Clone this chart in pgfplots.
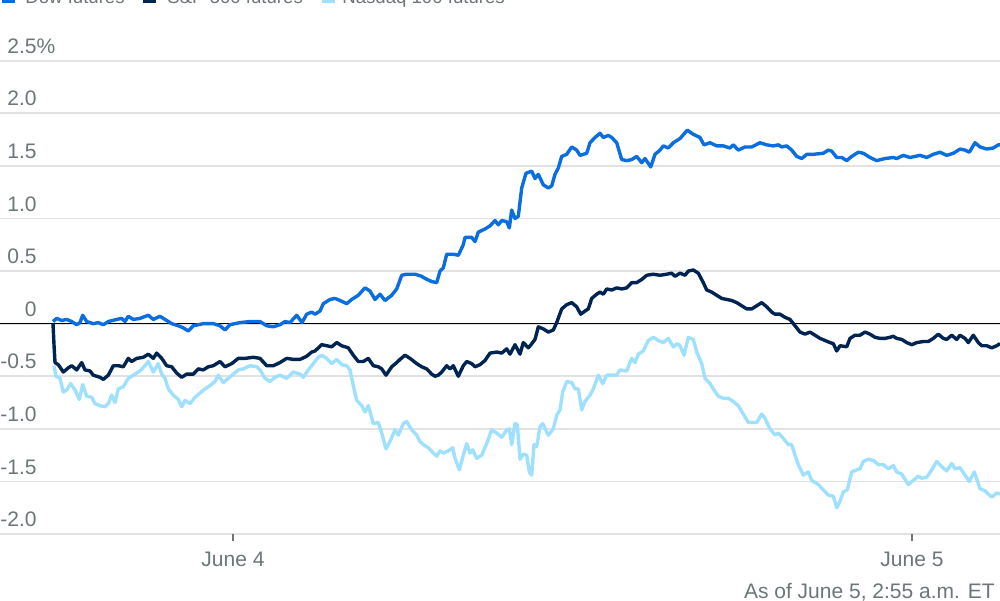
\documentclass[border=0pt]{standalone}
\usepackage{fontspec}
\setmainfont{Liberation Sans}
\usepackage{pgfplots}
\pgfplotsset{compat=1.18}
\definecolor{dow}{RGB}{10,110,225}
\definecolor{spx}{RGB}{0,36,82}
\definecolor{ndx}{RGB}{160,224,255}
\definecolor{txt}{RGB}{108,117,120}
\definecolor{grd}{RGB}{226,226,226}
\newcommand{\lbl}{\fontsize{10.5}{12}\selectfont}
\newcommand{\lgd}{\fontsize{9.3}{11}\selectfont}
\begin{document}
\begin{tikzpicture}
\useasboundingbox (0,-33pt) rectangle (500pt,267pt);
\clip (0,-33pt) rectangle (500pt,267pt);
\begin{axis}[
  at={(0,0)}, anchor=south west,
  scale only axis, width=500pt, height=236.65pt,
  xmin=0, xmax=1000, ymin=-2, ymax=2.5,
  axis line style={draw=none},
  ytick={-2,-1.5,-1,-0.5,0,0.5,1,1.5,2,2.5},
  yticklabels={-2.0,-1.5,-1.0,-0.5,0,0.5,1.0,1.5,2.0,2.5\rlap{\%}},
  ytick style={draw=none},
  yticklabel style={anchor=base east, inner sep=0pt, xshift=22pt, yshift=3.7pt, font=\lbl, text=txt},
  xtick={233,912},
  xticklabels={June 4,June 5},
  xtick pos=bottom, ytick pos=left,
  tick align=outside,
  xtick style={draw=txt, line width=0.6pt},
  major tick length=3.5pt,
  xticklabel style={anchor=base, inner sep=0pt, yshift=-12.5pt, font=\lbl, text=txt},
  ymajorgrids, grid style={grd, line width=0.9pt},
  every axis plot/.append style={line join=round, no markers},
]
\addplot[black, line width=0.7pt] coordinates {(0,0)(1000,0)};
% Nasdaq 100 futures
\addplot[ndx, line width=1.7pt] coordinates {
(54,-0.40)(56,-0.50)(60,-0.52)(63.3,-0.65)(66.7,-0.63)(70.7,-0.57)(75,-0.63)(79.3,-0.72)(82.7,-0.58)(86.7,-0.69)(91.7,-0.70)(95,-0.76)(100,-0.78)(105,-0.79)(108.3,-0.76)(111.7,-0.68)(115,-0.75)(118.3,-0.62)(123.3,-0.60)(128.3,-0.52)(133.3,-0.49)(140,-0.45)(145,-0.40)(148.3,-0.36)(153.3,-0.46)(158.3,-0.38)(161.7,-0.48)(165,-0.52)(168.3,-0.62)(173.3,-0.68)(178.3,-0.72)(181.7,-0.79)(185,-0.73)(190,-0.76)(195,-0.70)(200,-0.66)(205,-0.62)(210,-0.59)(215,-0.55)(218.3,-0.49)(223.3,-0.56)(228.3,-0.52)(233.3,-0.48)(238.3,-0.44)(243.3,-0.43)(250,-0.40)(256.7,-0.41)(260,-0.44)(265,-0.52)(270,-0.55)(275,-0.51)(280,-0.49)(286.7,-0.52)(293.3,-0.46)(300,-0.48)(303.3,-0.51)(308.3,-0.44)(313.3,-0.38)(318.3,-0.32)(321.7,-0.30)(326.7,-0.33)(331.7,-0.38)(336.7,-0.34)(341.7,-0.39)(346.7,-0.40)(350,-0.44)(353.3,-0.59)(356.7,-0.73)(361.7,-0.78)(365,-0.84)(368.3,-0.78)(373.3,-0.95)(378.3,-0.94)(381.7,-1.04)(386,-1.19)(390,-1.12)(395,-1.01)(398.3,-1.06)(403.3,-0.95)(406.7,-0.93)(411.7,-1.01)(416.7,-1.06)(420,-1.12)(423.3,-1.15)(428.3,-1.18)(433.3,-1.23)(436.7,-1.26)(440,-1.21)(443.3,-1.23)(448.3,-1.21)(452.7,-1.18)(455,-1.28)(459.3,-1.39)(463.3,-1.25)(466.7,-1.14)(470,-1.23)(472.7,-1.20)(476.7,-1.28)(481.7,-1.25)(486.7,-1.14)(491.7,-1.01)(496.7,-1.04)(501.7,-1.08)(506.7,-1.01)(509.3,-1.00)(511.7,-1.15)(515,-0.95)(517.3,-0.96)(520,-1.29)(523.3,-1.24)(526.7,-1.25)(529.3,-1.41)(531.7,-1.44)(534,-1.15)(536.7,-1.17)(540,-0.98)(542.7,-0.95)(548.3,-1.06)(553.3,-1.00)(556.7,-0.87)(560,-0.82)(562.7,-0.65)(566.7,-0.55)(571.7,-0.56)(575,-0.62)(578.3,-0.62)(581.7,-0.82)(585,-0.74)(590,-0.68)(593.3,-0.62)(598.3,-0.49)(602.7,-0.57)(606.7,-0.49)(611.7,-0.49)(616.7,-0.49)(620,-0.44)(626.7,-0.45)(631.7,-0.33)(635,-0.37)(638.3,-0.29)(643.3,-0.26)(648.3,-0.16)(653.3,-0.13)(658.3,-0.16)(663.3,-0.18)(668.3,-0.14)(673.3,-0.22)(677.3,-0.19)(680,-0.21)(684,-0.30)(688.3,-0.13)(693.3,-0.15)(696.7,-0.27)(701.7,-0.38)(705,-0.52)(710,-0.57)(713.3,-0.62)(718.3,-0.69)(723.3,-0.71)(728.3,-0.71)(733.3,-0.74)(738.3,-0.78)(743.3,-0.86)(748.3,-0.94)(753.3,-0.94)(756.7,-0.94)(761.7,-0.86)(765,-0.90)(770,-1.00)(775,-1.06)(778.3,-1.04)(783.3,-1.09)(788.3,-1.15)(791.7,-1.15)(795,-1.25)(798.3,-1.34)(803.3,-1.44)(808.3,-1.41)(811.7,-1.49)(818.3,-1.53)(823.3,-1.58)(828.3,-1.63)(833.3,-1.64)(836.7,-1.75)(840,-1.69)(843.3,-1.60)(847.3,-1.58)(851.7,-1.41)(856.7,-1.39)(860,-1.38)(863.3,-1.31)(868.3,-1.29)(873.3,-1.30)(878.3,-1.34)(883.3,-1.34)(888.3,-1.38)(893.3,-1.35)(896.7,-1.41)(901.7,-1.43)(908.3,-1.53)(913.3,-1.49)(918.3,-1.45)(921.7,-1.47)(926.7,-1.46)(931.7,-1.39)(936.7,-1.31)(941.7,-1.36)(946.7,-1.40)(951.7,-1.33)(955,-1.38)(960,-1.37)(965,-1.44)(969.3,-1.50)(974.3,-1.41)(980,-1.57)(985,-1.59)(991.7,-1.65)(996.7,-1.61)(1000,-1.62)
};
% S&P 500 futures
\addplot[spx, line width=1.7pt] coordinates {
(53,0.0)(54,-0.2)(55,-0.37)(58.3,-0.39)(63.3,-0.46)(68.3,-0.42)(71.7,-0.40)(76.7,-0.44)(81.7,-0.37)(85,-0.44)(90,-0.45)(93.3,-0.49)(100,-0.51)(103.3,-0.53)(108.3,-0.49)(113.3,-0.40)(118.3,-0.40)(123.3,-0.41)(128.3,-0.33)(131.7,-0.36)(136.7,-0.33)(143.3,-0.32)(148.3,-0.29)(153.3,-0.33)(156.7,-0.28)(161.7,-0.33)(166.7,-0.40)(171.7,-0.41)(176.7,-0.47)(181.7,-0.51)(186.7,-0.48)(193.3,-0.48)(198.3,-0.43)(203.3,-0.44)(208.3,-0.41)(213.3,-0.40)(220,-0.36)(225,-0.41)(231.7,-0.38)(238.3,-0.33)(245,-0.33)(253.3,-0.32)(260,-0.33)(266.7,-0.40)(273.3,-0.40)(280,-0.37)(286.7,-0.33)(293.3,-0.34)(300,-0.34)(306.7,-0.31)(311.7,-0.27)(315,-0.26)(321.7,-0.20)(326.7,-0.21)(331.7,-0.22)(336.7,-0.18)(341.7,-0.21)(348.3,-0.23)(353.3,-0.30)(358.3,-0.36)(363.3,-0.36)(368.3,-0.33)(373.3,-0.40)(378.3,-0.41)(381.7,-0.43)(386,-0.49)(391.7,-0.41)(396.7,-0.37)(400,-0.34)(405,-0.30)(410,-0.33)(416.7,-0.38)(421.7,-0.41)(426.7,-0.43)(431.7,-0.48)(435,-0.50)(438.3,-0.49)(441.7,-0.46)(446.7,-0.40)(450,-0.43)(453.3,-0.40)(458.3,-0.50)(463.3,-0.40)(466.7,-0.36)(471.7,-0.38)(475,-0.41)(480,-0.39)(485,-0.35)(490,-0.28)(496.7,-0.27)(501.7,-0.28)(506.7,-0.24)(510,-0.29)(515,-0.20)(520,-0.29)(523.3,-0.18)(528.3,-0.23)(531,-0.20)(535,-0.15)(538.3,-0.03)(543.3,-0.05)(548.3,-0.08)(553.3,-0.06)(556.7,0.01)(561.7,0.14)(566.7,0.18)(571.7,0.20)(576.7,0.16)(580.7,0.09)(585,0.12)(588.3,0.14)(591.7,0.24)(596.7,0.28)(600,0.30)(603.3,0.28)(606.7,0.33)(611.7,0.32)(616.7,0.34)(621.7,0.33)(626.7,0.34)(631.7,0.39)(636.7,0.39)(641.7,0.42)(646.7,0.46)(653.3,0.47)(660,0.46)(666.7,0.47)(671.7,0.48)(675,0.45)(680,0.48)(685,0.46)(688.3,0.50)(693.3,0.51)(698.3,0.48)(703.3,0.39)(706.7,0.32)(711.7,0.30)(716.7,0.27)(721.7,0.24)(726.7,0.23)(731.7,0.22)(736.7,0.20)(741.7,0.17)(746.7,0.14)(751.7,0.14)(756.7,0.17)(761.7,0.20)(766.7,0.16)(771.7,0.11)(775,0.09)(780,0.09)(785,0.06)(790,0.04)(795,-0.02)(800,-0.08)(805,-0.10)(810,-0.08)(815,-0.11)(820,-0.14)(825,-0.16)(830,-0.18)(833.3,-0.19)(836.7,-0.26)(840,-0.21)(846.7,-0.22)(850,-0.14)(855,-0.11)(860,-0.11)(865,-0.08)(870,-0.10)(875,-0.13)(880,-0.14)(885,-0.14)(890,-0.13)(893.3,-0.12)(896.7,-0.14)(901.7,-0.15)(906.7,-0.18)(911.7,-0.20)(916.7,-0.18)(923.3,-0.17)(928.3,-0.17)(933.3,-0.14)(938.3,-0.10)(943.3,-0.14)(946.7,-0.15)(951.7,-0.11)(956.7,-0.15)(960,-0.11)(965,-0.14)(968.3,-0.18)(973.3,-0.11)(978.3,-0.18)(981.7,-0.21)(986.7,-0.21)(991.7,-0.23)(996.7,-0.21)(1000,-0.19)
};
% Dow futures
\addplot[dow, line width=1.7pt] coordinates {
(53,0.02)(56.7,0.05)(61.7,0.03)(66.7,0.04)(71.7,0.02)(76.7,-0.01)(80,0.01)(82.7,0.08)(86.7,0.02)(93.3,0.0)(98.3,0.01)(103.3,-0.01)(108.3,0.02)(116.7,0.04)(121.7,0.05)(125,0.02)(128.3,0.07)(133.3,0.04)(140,0.05)(148.3,0.08)(153.3,0.04)(160,0.07)(166.7,0.03)(171.7,0.0)(178.3,-0.02)(183.3,-0.04)(188.3,-0.07)(193.3,-0.02)(203.3,0.0)(213.3,0.0)(220,-0.02)(225,-0.06)(230,-0.01)(240,0.01)(250,0.02)(260,0.02)(266.7,-0.02)(273.3,-0.03)(280,-0.01)(285,0.02)(290,0.01)(296.7,0.08)(302,0.01)(306.7,0.09)(311.7,0.11)(315,0.09)(320,0.12)(323.3,0.19)(330,0.23)(335,0.24)(340,0.22)(346.7,0.19)(351.7,0.23)(358.3,0.27)(365,0.34)(370,0.31)(375,0.23)(380,0.28)(385,0.22)(391.7,0.27)(396.7,0.33)(401.7,0.46)(406.7,0.47)(415,0.47)(421.7,0.45)(425,0.43)(431.7,0.40)(436.7,0.39)(440,0.50)(443.3,0.53)(446.7,0.66)(453.3,0.66)(458.3,0.65)(463.3,0.75)(465,0.82)(471.7,0.82)(475,0.78)(478.3,0.87)(485,0.90)(490,0.93)(495,0.98)(498.3,0.94)(501.7,0.98)(506.7,0.97)(509.3,0.91)(511.7,1.08)(515,1.00)(518.3,1.02)(521.7,1.29)(526,1.43)(531.7,1.45)(535,1.38)(538.3,1.42)(543.3,1.32)(548.3,1.29)(551.7,1.31)(555,1.42)(558.3,1.48)(561.7,1.59)(566.7,1.61)(571.7,1.68)(576.7,1.65)(580,1.60)(586.7,1.62)(590,1.72)(595,1.77)(600,1.81)(603.3,1.77)(608.3,1.79)(611.7,1.77)(616.7,1.72)(621.7,1.56)(626.7,1.55)(631.7,1.56)(636.7,1.59)(641.7,1.53)(645,1.57)(650.7,1.49)(655,1.61)(660,1.65)(663.3,1.69)(668.3,1.67)(673.3,1.72)(680,1.76)(687.3,1.84)(693.3,1.80)(700,1.77)(704,1.70)(710,1.72)(716.7,1.69)(723.3,1.69)(730,1.67)(733.3,1.70)(738.3,1.65)(745,1.68)(751.7,1.68)(760,1.72)(766.7,1.70)(773.3,1.69)(778.3,1.70)(781.7,1.68)(786.7,1.69)(791.7,1.65)(796.7,1.59)(801.7,1.57)(806.7,1.61)(813.3,1.61)(823.3,1.62)(828.3,1.65)(831.7,1.64)(836.7,1.58)(841.7,1.58)(846.7,1.55)(851.7,1.59)(858.3,1.63)(863.3,1.62)(870,1.58)(876.7,1.55)(885,1.57)(893.3,1.58)(896.7,1.57)(903.3,1.60)(910,1.58)(920,1.60)(926.7,1.58)(933.3,1.61)(940,1.63)(946.7,1.60)(953.3,1.62)(960,1.66)(965,1.65)(969.3,1.63)(975,1.72)(980,1.68)(986.7,1.66)(993.3,1.67)(998.3,1.70)(1000,1.70)
};
\end{axis}
% legend (partly cut off at the top, as in the reference)
\fill[dow] (0.8pt,265.35pt) rectangle (7.5pt,272pt);
\node[anchor=base west, inner sep=0pt, text=txt, font=\lgd] at (12.5pt,265.35pt) {Dow futures};
\fill[spx] (71.5pt,265.35pt) rectangle (78pt,272pt);
\node[anchor=base west, inner sep=0pt, text=txt, font=\lgd] at (83.5pt,265.35pt) {S\&P 500 futures};
\fill[ndx] (161pt,265.35pt) rectangle (167.5pt,272pt);
\node[anchor=base west, inner sep=0pt, text=txt, font=\lgd] at (171pt,265.35pt) {Nasdaq 100 futures};
% note
\node[anchor=base east, inner sep=0pt, text=txt, font=\lbl] at (497.5pt,-32.3pt) {As of June 5, 2:55 a.m. ET};
\end{tikzpicture}
\end{document}
